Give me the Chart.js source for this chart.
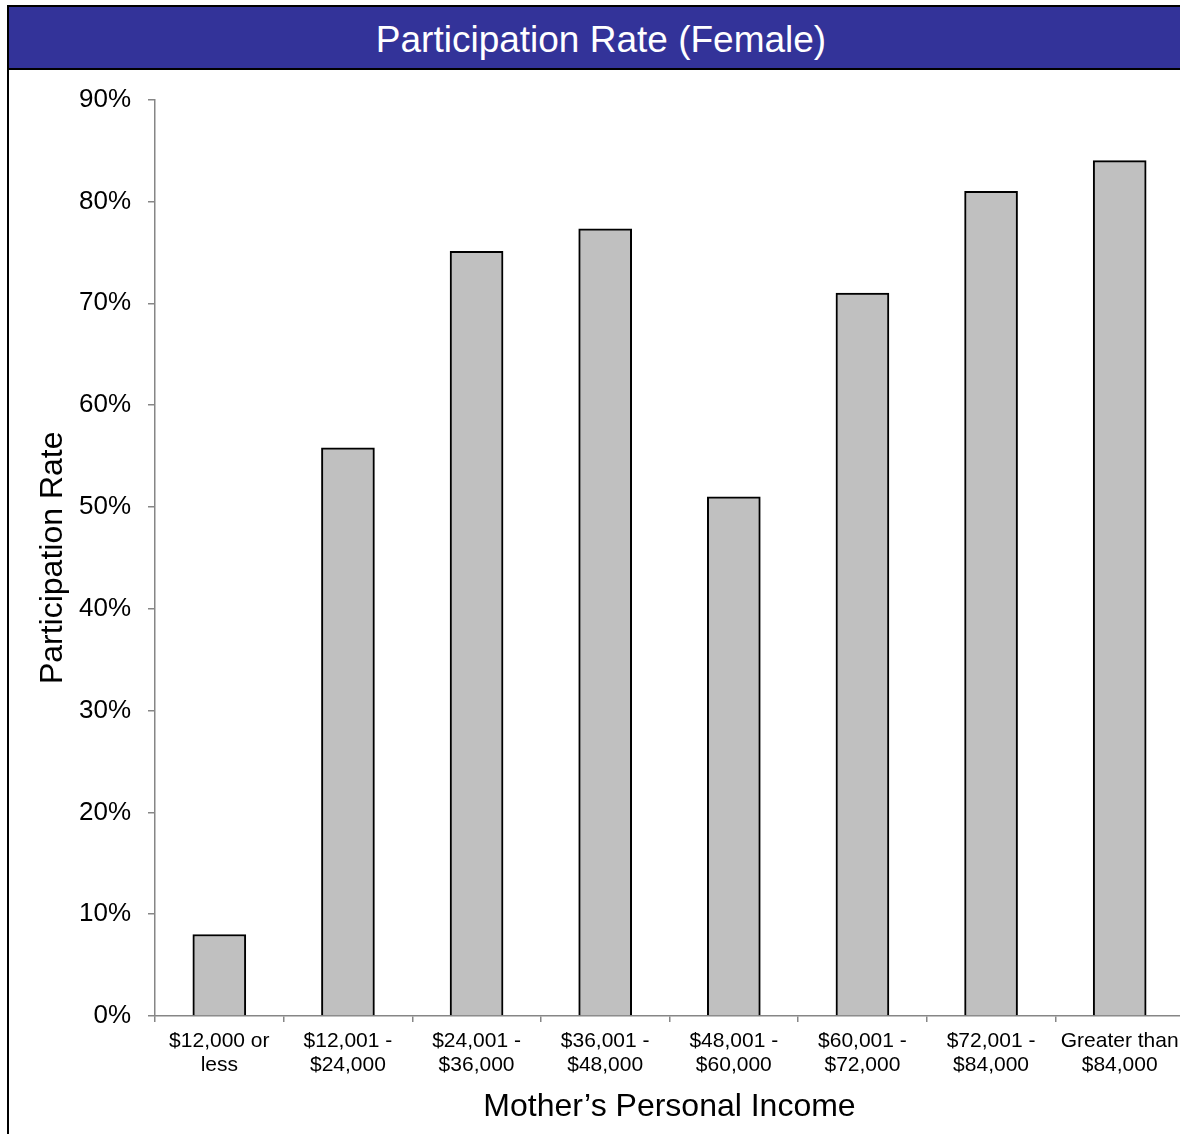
<!DOCTYPE html>
<html>
<head>
<meta charset="utf-8">
<script src="https://cdn.jsdelivr.net/npm/chart.js@4/dist/chart.umd.min.js"></script>
<style>
  html, body { margin: 0; padding: 0; background: #fff; overflow: hidden; width: 1180px; height: 1134px; }
  #leftline { position: absolute; left: 7px; top: 5px; width: 2px; height: 1140px; background: #000; }
  #title {
    position: absolute; left: 9px; top: 5px; width: 1184px; height: 61px;
    background: #333399; border-top: 2px solid #000; border-bottom: 2px solid #000;
    color: #fff; font-family: 'Liberation Sans', Arial, sans-serif; font-size: 37px;
    line-height: 65px; text-align: center;
  }
  #wrap { position: absolute; left: 0; top: 70px; width: 1200px; height: 1064px; }
</style>
</head>
<body>
<div id="leftline"></div>
<div id="title">Participation Rate (Female)</div>
<div id="wrap"><canvas id="rateChart" width="1200" height="1064"></canvas></div>
<script>
// income bands (x axis)
var categories = [
    ['$12,000 or', 'less'],
    ['$12,001 -', '$24,000'],
    ['$24,001 -', '$36,000'],
    ['$36,001 -', '$48,000'],
    ['$48,001 -', '$60,000'],
    ['$60,001 -', '$72,000'],
    ['$72,001 -', '$84,000'],
    ['Greater than', '$84,000']
];
// participation rate, percent
var rates = [8.0, 55.8, 75.1, 77.3, 51.0, 71.0, 81.0, 84.0];
// y axis ticks
var yMin = 0;
var yMax = 90;
var yStep = 10;

var fontFamily = "'Liberation Sans', Arial, sans-serif";
var axisGrey = '#868686';

const dataChart = {
    labels: categories,
    datasets: [{
        label: 'Participation Rate',
        data: rates,
        backgroundColor: '#c0c0c0',
        borderColor: '#000',
        borderWidth: 2,
        barThickness: 53
    }]
};

const config = {
    type: 'bar',
    data: dataChart,
    options: {
        responsive: false,
        animation: false,
        layout: { padding: { top: 0, right: 16, bottom: 0, left: 0 } },
        plugins: {
            legend: { display: false },
            tooltip: { enabled: false }
        },
        scales: {
            x: {
                afterFit: function(scale) { scale.height = 118; },
                grid: {
                    drawOnChartArea: false,
                    drawTicks: true,
                    tickLength: 6,
                    color: axisGrey,
                    lineWidth: 1.5,
                    offset: true
                },
                border: { color: axisGrey, width: 1.5 },
                ticks: {
                    color: '#000',
                    padding: 7,
                    maxRotation: 0,
                    autoSkip: false,
                    font: { family: fontFamily, size: 21, lineHeight: 1.15 }
                },
                title: {
                    display: true,
                    text: 'Mother\u2019s Personal Income',
                    color: '#000',
                    padding: { top: 0, bottom: 8 },
                    font: { family: fontFamily, size: 32, lineHeight: 1.2 }
                }
            },
            y: {
                min: yMin,
                max: yMax,
                afterFit: function(scale) { scale.width = 155; },
                grid: {
                    drawOnChartArea: false,
                    drawTicks: true,
                    tickLength: 7,
                    color: axisGrey,
                    lineWidth: 1.5
                },
                border: { color: axisGrey, width: 1.5 },
                ticks: {
                    stepSize: yStep,
                    color: '#000',
                    padding: 17,
                    font: { family: fontFamily, size: 26, lineHeight: 0.97 },
                    callback: function(v) { return v + '%'; }
                },
                title: {
                    display: true,
                    text: 'Participation Rate',
                    color: '#000',
                    padding: { top: 34, bottom: 0 },
                    font: { family: fontFamily, size: 32, lineHeight: 1.2 }
                }
            }
        }
    }
};

var myChart = new Chart(document.getElementById('rateChart'), config);
</script>
</body>
</html>
